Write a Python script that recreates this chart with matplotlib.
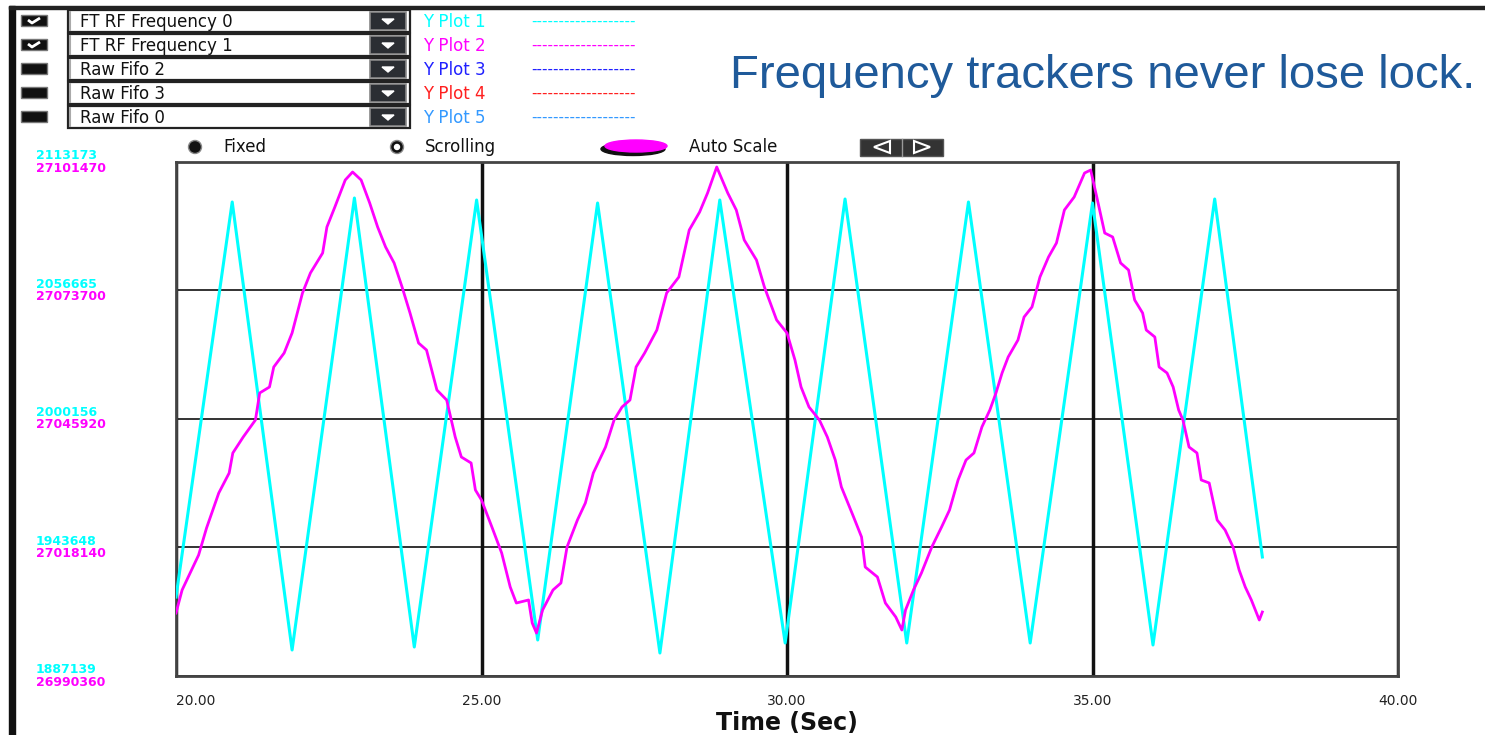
import matplotlib
matplotlib.use("Agg")
import matplotlib.pyplot as plt
from matplotlib.patches import Rectangle, Circle, Ellipse, Polygon
from matplotlib.transforms import blended_transform_factory, offset_copy

plt.rcParams['font.family'] = ['DejaVu Sans']

# --- data ---
t_cyan = [20.0, 20.92, 21.9, 22.92, 23.9, 24.92, 25.92, 26.9, 27.92, 28.9,
          29.97, 30.95, 31.96, 32.97, 33.98, 35.0, 35.99, 37.0, 37.78]
cyan_vals = [1921880, 2095580, 1898570, 2097340, 1899890, 2096460, 1902970,
             2095140, 1897250, 2096460, 1901650, 2096900, 1901650, 2095580,
             1901650, 2095140, 1900770, 2096900, 1939470]

t_mag = [20.0, 20.1, 20.2, 20.37, 20.5, 20.7, 20.87, 20.93, 21.1, 21.3, 21.37,
         21.53, 21.6, 21.77, 21.9, 22.07, 22.2, 22.4, 22.47, 22.6, 22.77, 22.89,
         23.03, 23.17, 23.3, 23.43, 23.57, 23.7, 23.83, 23.97, 24.1, 24.27,
         24.43, 24.57, 24.67, 24.83, 24.9, 25.0, 25.17, 25.33, 25.47, 25.57,
         25.77, 25.83, 25.9, 26.0, 26.17, 26.3, 26.4, 26.57, 26.7, 26.83, 27.03,
         27.17, 27.3, 27.43, 27.53, 27.67, 27.87, 28.03, 28.23, 28.4, 28.57,
         28.7, 28.85, 29.03, 29.17, 29.3, 29.5, 29.63, 29.83, 30.0, 30.13,
         30.23, 30.36, 30.53, 30.66, 30.79, 30.89, 31.09, 31.22, 31.28, 31.48,
         31.61, 31.78, 31.88, 31.94, 32.07, 32.2, 32.37, 32.53, 32.66, 32.8,
         32.93, 33.06, 33.19, 33.32, 33.42, 33.52, 33.62, 33.78, 33.88, 34.01,
         34.14, 34.28, 34.41, 34.54, 34.7, 34.87, 34.97, 35.07, 35.2, 35.33,
         35.46, 35.59, 35.69, 35.82, 35.88, 36.02, 36.09, 36.22, 36.32, 36.41,
         36.48, 36.58, 36.71, 36.78, 36.91, 37.04, 37.17, 37.3, 37.4, 37.5,
         37.6, 37.73, 37.78]
mag_vals = [27003980, 27008950, 27011760, 27016510, 27022350, 27029920,
            27034240, 27038570, 27042020, 27045700, 27051540, 27052830,
            27057160, 27060180, 27064510, 27073150, 27077480, 27081800,
            27087420, 27091740, 27097580, 27099310, 27097580, 27092610,
            27087420, 27083100, 27079640, 27074450, 27068830, 27062340,
            27060830, 27052180, 27050020, 27042020, 27037700, 27036400,
            27030570, 27028400, 27022570, 27016950, 27009600, 27006140,
            27006790, 27001820, 26999650, 27004630, 27008950, 27010460,
            27018250, 27024080, 27027760, 27034240, 27039860, 27045700,
            27048510, 27050020, 27057160, 27060180, 27065150, 27073150,
            27076610, 27086770, 27090660, 27094770, 27100390, 27094770,
            27091090, 27084610, 27080290, 27074450, 27067320, 27064510,
            27058670, 27052830, 27048510, 27045700, 27042020, 27037050,
            27031220, 27024730, 27020410, 27013920, 27011760, 27006140,
            27003110, 27000300, 27004630, 27008950, 27012620, 27018250,
            27022570, 27026240, 27032730, 27037050, 27038570, 27044190,
            27047860, 27051540, 27055860, 27059320, 27062990, 27067960,
            27070130, 27076610, 27080930, 27083960, 27091090, 27093900,
            27099090, 27099740, 27093900, 27086120, 27085260, 27079640,
            27078120, 27071640, 27068830, 27065150, 27063640, 27057160,
            27055860, 27052830, 27047860, 27045700, 27039860, 27038570,
            27032730, 27032080, 27024080, 27021920, 27018250, 27013270,
            27009600, 27006790, 27002460, 27004190]

cyan_ticks = [1887139, 1943648, 2000156, 2056665, 2113173]
mag_ticks = [26990360, 27018140, 27045920, 27073700, 27101470]
x_ticks = [20, 25, 30, 35, 40]

channels = ['FT RF Frequency 0', 'FT RF Frequency 1', 'Raw Fifo 2', 'Raw Fifo 3', 'Raw Fifo 0']
checked = [True, True, False, False, False]
plot_names = ['Y Plot 1', 'Y Plot 2', 'Y Plot 3', 'Y Plot 4', 'Y Plot 5']
plot_colors = ['#00ffff', '#ff00ff', '#2020ff', '#ff2020', '#3399ff']

CYAN = '#00ffff'
MAGENTA = '#ff00ff'

W, H = 1485, 735
fig = plt.figure(figsize=(W / 100, H / 100), dpi=100)

# pixel-coordinate layer for the GUI chrome
ui = fig.add_axes([0, 0, 1, 1], zorder=0)
ui.set_xlim(0, W)
ui.set_ylim(H, 0)
ui.axis('off')

ui.add_patch(Rectangle((9, 6), 6, H, color='#111111'))
ui.add_patch(Rectangle((9, 6), W, 3, color='#222222'))

row_y = [21, 45, 69, 93, 117]
for i, y in enumerate(row_y):
    # checkbox
    ui.add_patch(Rectangle((21, y - 6), 26, 11, facecolor='#111111', edgecolor='#777777', lw=1))
    if checked[i]:
        ui.plot([28, 32, 40], [y - 1, y + 2, y - 3], color='white', lw=2, solid_capstyle='butt')
    # dropdown
    ui.add_patch(Rectangle((68, y - 11), 342, 22, facecolor='white', edgecolor='#222222', lw=1.6))
    ui.plot([70, 70], [y - 9, y + 9], color='#aaaaaa', lw=1.5)
    ui.add_patch(Rectangle((370, y - 9), 36, 18, facecolor='#2b2e33', edgecolor='#888888', lw=1.2))
    ui.add_patch(Polygon([(382, y - 2), (394, y - 2), (388, y + 3)], closed=True, color='white'))
    ui.text(80, y + 1, channels[i], fontsize=12, color='#111111', va='center', ha='left')
    # plot legend entries
    ui.text(423, y + 1, plot_names[i], fontsize=12, color=plot_colors[i], va='center', ha='left')
    ui.text(531, y, '-' * 19, fontsize=11, color=plot_colors[i], va='center', ha='left')

# radio buttons row
ry = 147
ui.add_patch(Circle((195, ry), 6.5, facecolor='#111111', edgecolor='#888888', lw=1))
ui.text(223, ry, 'Fixed', fontsize=12, color='#111111', va='center')
ui.add_patch(Circle((397, ry), 6.5, facecolor='#111111', edgecolor='#888888', lw=1))
ui.add_patch(Circle((397, ry), 2.5, color='white'))
ui.text(425, ry, 'Scrolling', fontsize=12, color='#111111', va='center')
ui.add_patch(Ellipse((633, ry + 2), 64, 13, color='#111111'))
ui.add_patch(Ellipse((636, ry - 1), 62, 12, color=MAGENTA))
ui.text(689, ry, 'Auto Scale', fontsize=12, color='#111111', va='center')
ui.add_patch(Rectangle((860, ry - 8), 83, 17, facecolor='#333333', edgecolor='#555555', lw=1))
ui.plot([902, 902], [ry - 8, ry + 9], color='#999999', lw=1)
ui.add_patch(Polygon([(874, ry), (890, ry - 6), (890, ry + 6)], closed=True,
                     facecolor='#333333', edgecolor='white', lw=1.5))
ui.add_patch(Polygon([(930, ry), (914, ry - 6), (914, ry + 6)], closed=True,
                     facecolor='#333333', edgecolor='white', lw=1.5))

ui.text(730, 88, 'Frequency trackers never lose lock.', fontsize=34, color='#1f5a9a',
        family='Liberation Sans', va='baseline', ha='left')

# main plot
ax = fig.add_axes([176 / W, 1 - 676 / H, (1398 - 176) / W, (676 - 162) / H], zorder=1)
ax.set_facecolor('white')
ax.plot(t_cyan, cyan_vals, color=CYAN, lw=2.2, zorder=3)
ax.set_xlim(20, 40)
ax.set_ylim(cyan_ticks[0], cyan_ticks[-1])
ax.set_yticks(cyan_ticks)
ax.set_xticks(x_ticks)
ax.set_xticklabels([f'{v:.2f}' for v in x_ticks])
ax.tick_params(axis='y', length=0, labelleft=False)
ax.tick_params(axis='x', length=0, pad=13, labelsize=10, labelcolor='#222222')
ax.get_xticklabels()[0].set_horizontalalignment('left')
ax.xaxis.grid(True, color='#111111', lw=2.5)
ax.yaxis.grid(True, color='#111111', lw=1.2)
for s in ax.spines.values():
    s.set_color('#444444')
    s.set_linewidth(2)
ax.set_xlabel('Time (Sec)', fontsize=17, fontweight='bold', color='#111111', labelpad=2)

ax2 = ax.twinx()
ax2.plot(t_mag, mag_vals, color=MAGENTA, lw=2, zorder=3)
ax2.set_ylim(mag_ticks[0], mag_ticks[-1])
ax2.set_yticks([])
for s in ax2.spines.values():
    s.set_visible(False)

# stacked tick labels on the left, cyan above the line, magenta below
tr_c = blended_transform_factory(fig.transFigure, ax.transData)
tr_m = blended_transform_factory(fig.transFigure, ax2.transData)
for v in cyan_ticks:
    ax.text(36 / W, v, str(v), transform=offset_copy(tr_c, fig=fig, y=6, units='dots'),
            fontsize=9, fontweight='bold', color=CYAN, va='center', ha='left', clip_on=False)
for v in mag_ticks:
    ax2.text(36 / W, v, str(v), transform=offset_copy(tr_m, fig=fig, y=-6, units='dots'),
             fontsize=9, fontweight='bold', color=MAGENTA, va='center', ha='left', clip_on=False)

fig.savefig('out.png', dpi=100, facecolor='white')
